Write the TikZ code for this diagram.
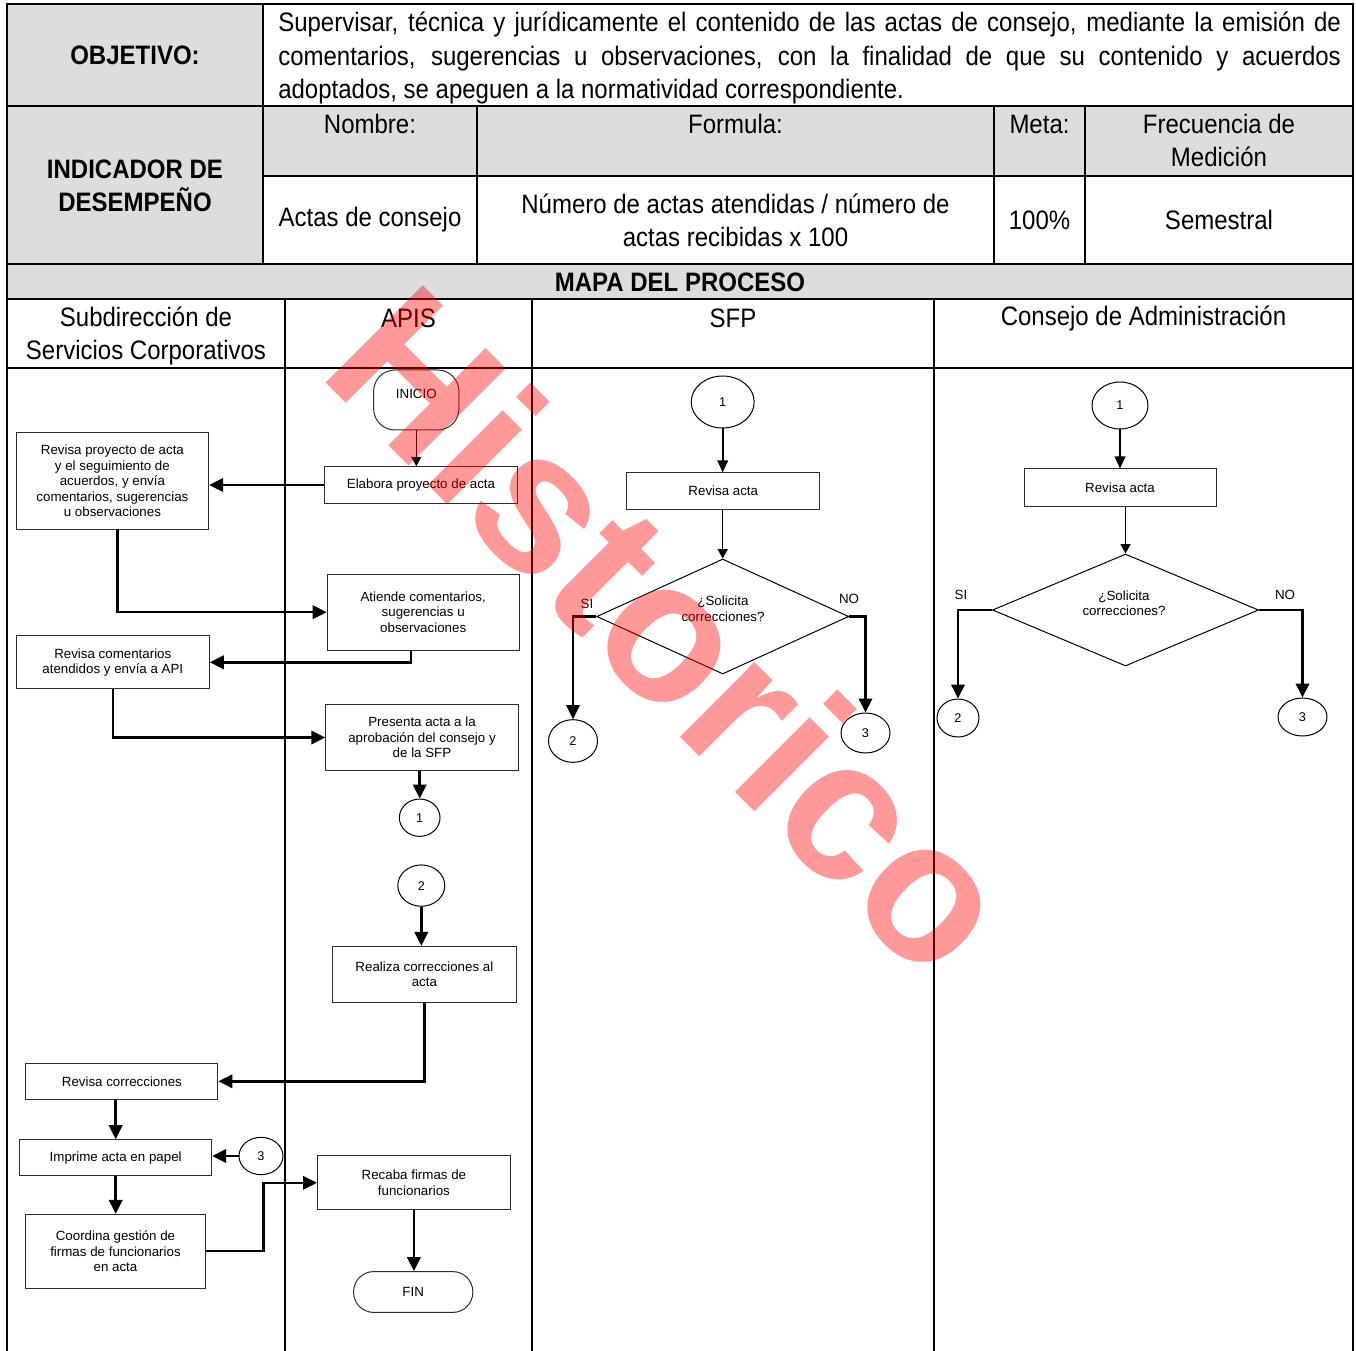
\documentclass[tikz,border=0pt]{standalone}
\usepackage{fontspec}
\setmainfont{Liberation Sans}
\newfontfamily\angosta[FakeStretch=0.9]{Liberation Sans}
\usetikzlibrary{positioning, arrows.meta, shapes.geometric}

\definecolor{gris}{RGB}{221,221,221}
\definecolor{borde}{RGB}{45,45,45}

\tikzset{
  tabla/.style={line width=1.3pt},
  cabecera/.style={font=\angosta\fontsize{20}{25}\selectfont, align=center, inner sep=0pt},
  cabnegrita/.style={font=\angosta\bfseries\fontsize{20}{25}\selectfont, align=center, inner sep=0pt},
  caja/.style={draw=borde, line width=0.75pt, align=center, inner sep=0pt, font=\fontsize{10}{11.6}\selectfont},
  conector/.style={draw, ellipse, line width=0.75pt, inner sep=0pt, font=\fontsize{9.5}{10}\selectfont},
  decision/.style={draw, diamond, line width=0.75pt, inner sep=0pt},
  texto/.style={align=center, inner sep=0pt, font=\fontsize{10}{11.6}\selectfont},
  flecha/.style={line width=1.9pt, -{Triangle[length=10.5pt,width=10pt]}},
  flechamedia/.style={line width=1.3pt, -{Triangle[length=9pt,width=8pt]}},
  flechafina/.style={line width=1pt, -{Triangle[length=7pt,width=7.5pt]}},
  marca/.style={anchor=base, rotate=-45, inner sep=0pt, text=red, text opacity=0.4, font=\fontsize{150}{150}\selectfont\bfseries}
}

\begin{document}
\begin{tikzpicture}[x=0.75pt,y=0.75pt,yscale=-1,xscale=1]
\useasboundingbox (0,0) rectangle (1356,1351);
%Shape: gray cells
\fill[gris] (7,4) rectangle (263,264);
\fill[gris] (263,106) rectangle (1353,176);
\fill[gris] (7,264) rectangle (1353,299);
%Straight Lines: table
\draw[tabla] (7,1351) -- (7,4) -- (1353,4) -- (1353,1351);
\draw[tabla] (7,106) -- (1353,106);
\draw[tabla] (263,176) -- (1353,176);
\draw[tabla] (7,264) -- (1353,264);
\draw[tabla] (7,299) -- (1353,299);
\draw[tabla] (7,368) -- (1353,368);
\draw[tabla] (263,4) -- (263,264);
\draw[tabla] (477,106) -- (477,264);
\draw[tabla] (994,106) -- (994,264);
\draw[tabla] (1085,106) -- (1085,264);
\draw[tabla] (285,299) -- (285,1351);
\draw[tabla] (532,299) -- (532,1351);
\draw[tabla] (934,299) -- (934,1351);
% Text Node
\node[cabnegrita] (objetivo) at (135,55) {OBJETIVO:};
% Text Node
\node[cabecera, text width=797pt, align=justify, anchor=north west] (objtexto) at (278,12) {\noindent Supervisar, técnica y jurídicamente el contenido de las actas de consejo, mediante la emisión de\linebreak comentarios, sugerencias u observaciones, con la finalidad de que su contenido y acuerdos\linebreak adoptados, se apeguen a la normatividad correspondiente.};
% Text Node
\node[cabnegrita] (indicador) at (135,185.5) {INDICADOR DE\\DESEMPEÑO};
\node[cabecera] (nombre) at (370,124) {Nombre:};
\node[cabecera] (formula) at (735.5,124) {Formula:};
\node[cabecera] (meta) at (1039.5,124) {Meta:};
\node[cabecera] (frecuencia) at (1219,140.5) {Frecuencia de\\Medición};
\node[cabecera] (actas) at (370,220) {Actas de consejo};
\node[cabecera] (calculo) at (735.5,220) {Número de actas atendidas / número de\\actas recibidas x 100};
\node[cabecera] (porcentaje) at (1039.5,220) {100\%};
\node[cabecera] (semestral) at (1219,220) {Semestral};
% Text Node
\node[cabnegrita] (mapa) at (680,282) {MAPA DEL PROCESO};
\node[cabecera] (subdireccion) at (146,336) {Subdirección de\\Servicios Corporativos};
\node[cabecera] (apis) at (408.5,318) {APIS};
\node[cabecera] (sfp) at (733,318) {SFP};
\node[cabecera] (consejo) at (1143.5,318) {Consejo de Administración};

%Flowchart: APIS
\node[caja, rounded corners=16pt, minimum width=64pt, minimum height=45pt, text depth=9pt] (inicio) at (416.3,400) {INICIO};
\node[caja, minimum width=144.75pt, minimum height=27.5pt] (elabora) at (421,485) {Elabora proyecto de acta};
\node[caja, minimum width=144.4pt, minimum height=72.5pt] (revproy) at (112.4,481) {Revisa proyecto de acta\\y el seguimiento de\\acuerdos, y envía\\comentarios, sugerencias\\u observaciones};
\node[caja, minimum width=144pt, minimum height=56.8pt] (atiende) at (423.2,612.2) {Atiende comentarios,\\sugerencias u\\observaciones};
\node[caja, minimum width=144.75pt, minimum height=39.5pt] (revcom) at (112.8,662.3) {Revisa comentarios\\atendidos y envía a API};
\node[caja, minimum width=144.3pt, minimum height=49.8pt] (presenta) at (422,737.5) {Presenta acta a la\\aprobación del consejo y\\de la SFP};
\node[conector, minimum width=30.5pt, minimum height=28pt] (c1a) at (419.7,817.7) {1};
\node[conector, minimum width=35.25pt, minimum height=31pt] (c2a) at (421.3,885.6) {2};
\node[caja, minimum width=138pt, minimum height=41.8pt] (realiza) at (424.4,974.3) {Realiza correcciones al\\acta};
\node[caja, minimum width=144pt, minimum height=27pt] (revcorr) at (121.9,1081.3) {Revisa correcciones};
\node[caja, minimum width=144pt, minimum height=26.8pt] (imprime) at (115.7,1157.6) {Imprime acta en papel};
\node[conector, minimum width=33pt, minimum height=28pt] (c3a) at (261,1156) {3};
\node[caja, minimum width=135.6pt, minimum height=55.2pt] (coord) at (115.5,1251.2) {Coordina gestión de\\firmas de funcionarios\\en acta};
\node[caja, minimum width=144.6pt, minimum height=40.4pt] (recaba) at (413.9,1182.8) {Recaba firmas de\\funcionarios};
\node[caja, rounded corners=15pt, minimum width=89.4pt, minimum height=30.6pt] (fin) at (413.2,1292) {FIN};

%Flowchart: SFP
\node[conector, minimum width=47.25pt, minimum height=39pt] (c1s) at (722.7,402) {1};
\node[caja, minimum width=144.75pt, minimum height=27.2pt] (revs) at (723.3,491) {Revisa acta};
\node[decision, minimum width=189pt, minimum height=86.25pt] (decs) at (722.7,616.5) {};
\node[texto] (pregs) at (723,608.5) {¿Solicita\\correcciones?};
\node[texto] (sis) at (587,604) {SI};
\node[texto] (nos) at (849,599) {NO};
\node[conector, minimum width=36.75pt, minimum height=32pt] (c2s) at (573,741) {2};
\node[conector, minimum width=36.75pt, minimum height=30pt] (c3s) at (865.5,733) {3};

%Flowchart: Consejo
\node[conector, minimum width=42pt, minimum height=35.25pt] (c1c) at (1120,405.5) {1};
\node[caja, minimum width=144pt, minimum height=27.75pt] (revc) at (1120,487.5) {Revisa acta};
\node[decision, minimum width=199.5pt, minimum height=84pt] (decc) at (1125.5,610) {};
\node[texto] (pregc) at (1124,603) {¿Solicita\\correcciones?};
\node[texto] (sic) at (961,595) {SI};
\node[texto] (noc) at (1285,595) {NO};
\node[conector, minimum width=31.5pt, minimum height=28.5pt] (c2c) at (958,718) {2};
\node[conector, minimum width=36.75pt, minimum height=28.5pt] (c3c) at (1302.5,717) {3};

%Straight Lines: APIS / Subdireccion
\draw[flechafina] (inicio.south) -- (inicio.south |- elabora.north);
\draw[flecha] (elabora.west) -- (elabora.west -| revproy.east);
\draw[flecha] ([xshift=4pt]revproy.south) |- (atiende.west);
\draw[flecha] ([xshift=-9pt]atiende.south) |- (revcom.east);
\draw[flecha] (revcom.south) |- (presenta.west);
\draw[flecha] (c1a.north |- presenta.south) -- (c1a.north);
\draw[flecha] (c2a.south) -- (c2a.south |- realiza.north);
\draw[flecha] (realiza.south) |- (revcorr.east);
\draw[flecha] (imprime.north |- revcorr.south) -- (imprime.north);
\draw[flecha] (c3a.west) -- (c3a.west -| imprime.east);
\draw[flecha] (imprime.south) -- (imprime.south |- coord.north);
\draw[flecha] (coord.east) -- ++(57,0) |- (recaba.west);
\draw[flecha] (recaba.south) -- (recaba.south |- fin.north);
%Straight Lines: SFP
\draw[flechamedia] (c1s.south) -- (c1s.south |- revs.north);
\draw[flechafina] (decs.north |- revs.south) -- (decs.north);
\draw[flecha] (decs.west) -| (c2s.north);
\draw[flecha] (decs.east) -| (c3s.north);
%Straight Lines: Consejo
\draw[flechamedia] (c1c.south) -- (c1c.south |- revc.north);
\draw[flechafina] (decc.north |- revc.south) -- (decc.north);
\draw[flecha] (decc.west) -| (c2c.north);
\draw[flecha] (decc.east) -| (c3c.north);

% Text Node: marca de agua
\node[marca] (historico) at (623,680) {Historico};
\end{tikzpicture}
\end{document}
